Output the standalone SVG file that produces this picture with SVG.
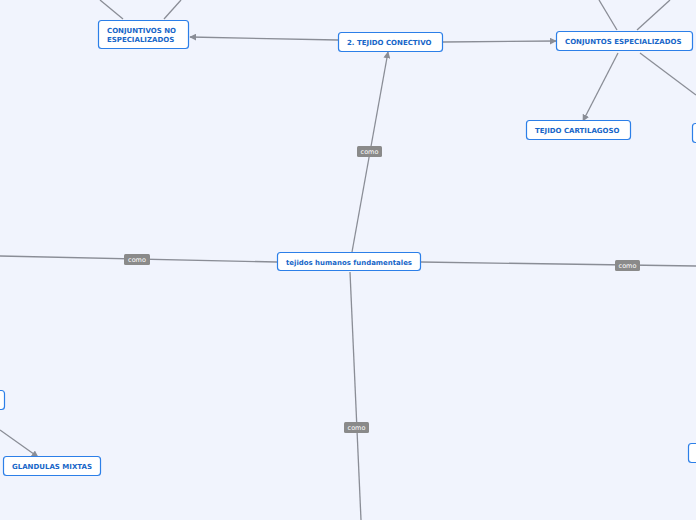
<svg xmlns="http://www.w3.org/2000/svg" width="696" height="520" viewBox="0 0 696 520">
<style>
.bg{fill:#f1f4fd}
.n rect{fill:#ffffff;stroke:#2c7fe8;stroke-width:1.2}
.n text{font-family:"DejaVu Sans",Verdana,sans-serif;font-weight:bold;font-size:7px;fill:#1766c8}
.c line{stroke:#8a8d96;stroke-width:1.3;fill:none}
.lb rect{fill:#8a8a8a}
.lb text{font-family:"DejaVu Sans",sans-serif;font-size:6.5px;fill:#ffffff;text-anchor:middle}
</style>
<defs>
<marker id="ar" viewBox="0 0 10 10" refX="9" refY="5" markerWidth="7" markerHeight="7" orient="auto" markerUnits="userSpaceOnUse">
<path d="M0,0 L10,5 L0,10 z" fill="#8a8d96"/>
</marker>
</defs>
<rect class="bg" x="0" y="0" width="696" height="520"/>
<g id="connectors" class="c">
<line x1="123" y1="19" x2="100" y2="0"/>
<line x1="164" y1="19" x2="181" y2="0"/>
<line x1="338" y1="40" x2="190" y2="37" marker-end="url(#ar)"/>
<line x1="443" y1="42" x2="556" y2="41" marker-end="url(#ar)"/>
<line x1="617" y1="30" x2="599" y2="0"/>
<line x1="637" y1="30" x2="670" y2="0"/>
<line x1="618" y1="53" x2="583" y2="121" marker-end="url(#ar)"/>
<line x1="640" y1="53" x2="696" y2="95"/>
<line x1="352" y1="252" x2="388" y2="52" marker-end="url(#ar)"/>
<line x1="277" y1="262" x2="0" y2="256"/>
<line x1="421" y1="262" x2="696" y2="266"/>
<line x1="350" y1="272" x2="361" y2="520"/>
<line x1="0" y1="430" x2="38" y2="457" marker-end="url(#ar)"/>
</g>
<g id="labels" class="lb">
<g><rect x="357" y="146" width="25" height="11" rx="1.5"/><text x="369.5" y="154">como</text></g>
<g><rect x="124" y="254" width="26" height="11" rx="1.5"/><text x="137" y="262">como</text></g>
<g><rect x="615" y="260" width="25" height="11" rx="1.5"/><text x="627.5" y="268">como</text></g>
<g><rect x="344" y="422" width="25" height="11" rx="1.5"/><text x="356.5" y="430">como</text></g>
</g>
<g id="n_conjuntivos" class="n"><rect x="98.5" y="20.5" width="90" height="28" rx="3"/><text x="107" y="33">CONJUNTIVOS NO</text><text x="107" y="42">ESPECIALIZADOS</text></g>
<g id="n_conectivo" class="n"><rect x="338.5" y="32.5" width="104" height="19" rx="3"/><text x="347" y="45">2. TEJIDO CONECTIVO</text></g>
<g id="n_especializados" class="n"><rect x="556.5" y="31.5" width="136" height="19" rx="3"/><text x="565" y="44">CONJUNTOS ESPECIALIZADOS</text></g>
<g id="n_cartilagoso" class="n"><rect x="526.5" y="120.5" width="104" height="19" rx="3"/><text x="535" y="133">TEJIDO CARTILAGOSO</text></g>
<g id="n_right1" class="n"><rect x="692.5" y="123.5" width="20" height="19" rx="3"/></g>
<g id="n_root" class="n"><rect x="277.5" y="252.5" width="143" height="18" rx="3"/><text x="286" y="264.5" textLength="126" lengthAdjust="spacingAndGlyphs">tejidos humanos fundamentales</text></g>
<g id="n_left1" class="n"><rect x="-20.5" y="390.5" width="25" height="19" rx="3"/></g>
<g id="n_glandulas" class="n"><rect x="3.5" y="456.5" width="97" height="19" rx="3"/><text x="12" y="469">GLANDULAS MIXTAS</text></g>
<g id="n_right2" class="n"><rect x="688.5" y="443.5" width="20" height="19" rx="3"/></g>
</svg>
